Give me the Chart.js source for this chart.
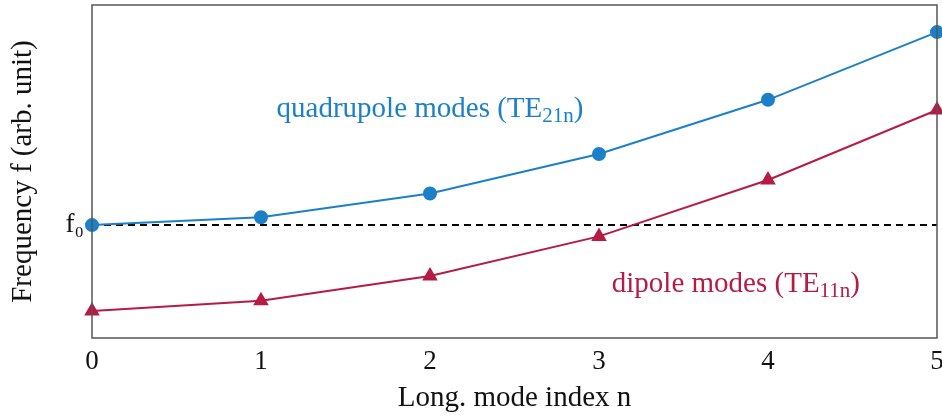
<!DOCTYPE html>
<html>
<head>
<meta charset="utf-8">
<script src="https://cdn.jsdelivr.net/npm/chart.js@4"></script>
<style>
  html, body { margin: 0; padding: 0; background: #fff; }
  #wrap { width: 942px; height: 418px; }
</style>
</head>
<body>
<div id="wrap"><canvas id="modes"></canvas></div>
<script>
// longitudinal mode index and mode frequencies (in units of f0)
const modeIndex = [0, 1, 2, 3, 4, 5];
const quadrupole = [1.00, 1.07, 1.28, 1.63, 2.11, 2.71];
const dipole = [0.24, 0.33, 0.55, 0.90, 1.40, 2.02];
const f0 = 1.0;

const blue = '#1b80c8';
const red = '#b51b45';
const serif = "'Liberation Serif', 'DejaVu Serif', serif";

const pts = vals => vals.map((v, i) => ({ x: modeIndex[i], y: v }));

// frame round the plot area plus the two curve labels with subscripts
const decorations = {
  id: 'decorations',
  afterDatasetsDraw(chart) {
    const { ctx, chartArea: a, scales } = chart;
    ctx.save();
    ctx.strokeStyle = '#555';
    ctx.lineWidth = 1.5;
    ctx.strokeRect(a.left, a.top, a.right - a.left, a.bottom - a.top);

    const label = (x, y, main, sub, color) => {
      ctx.fillStyle = color;
      ctx.textBaseline = 'alphabetic';
      ctx.font = '29px ' + serif;
      const w1 = ctx.measureText(main).width;
      ctx.font = '21px ' + serif;
      const w2 = ctx.measureText(sub).width;
      ctx.font = '29px ' + serif;
      const w3 = ctx.measureText(')').width;
      let px = scales.x.getPixelForValue(x) - (w1 + w2 + w3) / 2;
      const py = scales.y.getPixelForValue(y);
      ctx.fillText(main, px, py);
      px += w1;
      ctx.font = '21px ' + serif;
      ctx.fillText(sub, px, py + 5);
      px += w2;
      ctx.font = '29px ' + serif;
      ctx.fillText(')', px, py);
    };
    label(2.0, 1.96, 'quadrupole modes (TE', '21n', blue);
    label(3.81, 0.41, 'dipole modes (TE', '11n', red);
    ctx.restore();
  }
};

new Chart(document.getElementById('modes'), {
  type: 'line',
  data: {
    datasets: [
      {
        data: pts(quadrupole),
        borderColor: blue, backgroundColor: blue,
        borderWidth: 2, pointStyle: 'circle', pointRadius: 6,
        pointHoverRadius: 6, clip: false, order: 1
      },
      {
        data: pts(dipole),
        borderColor: red, backgroundColor: red,
        borderWidth: 2, pointStyle: 'triangle', pointRadius: 7,
        pointHoverRadius: 7, clip: false, order: 2
      },
      {
        data: [{ x: modeIndex[0], y: f0 }, { x: modeIndex[modeIndex.length - 1], y: f0 }],
        borderColor: '#000', borderWidth: 2, borderDash: [7, 5],
        pointRadius: 0, order: 3
      }
    ]
  },
  options: {
    responsive: true,
    maintainAspectRatio: false,
    animation: false,
    events: [],
    layout: { autoPadding: false, padding: { top: 5, right: 5, left: 0, bottom: 2 } },
    plugins: { legend: { display: false }, tooltip: { enabled: false } },
    scales: {
      x: {
        type: 'linear', min: 0, max: 5,
        grid: { display: false, drawTicks: false },
        border: { display: false },
        ticks: { stepSize: 1, padding: 8, color: '#111', font: { family: serif, size: 27 } },
        title: { display: true, text: 'Long. mode index n', color: '#111', padding: { top: 2, bottom: 0 },
                 font: { family: serif, size: 29 } },
        afterFit: s => { s.height = 78; s.paddingLeft = 0; s.paddingRight = 0; }
      },
      y: {
        min: 0, max: 2.95,
        grid: { display: false, drawTicks: false },
        border: { display: false },
        afterBuildTicks: s => { s.ticks = [{ value: f0 }]; },
        ticks: { padding: 8, color: '#111', font: { family: serif, size: 27 },
                 callback: v => 'f₀' },
        title: { display: true, text: 'Frequency f (arb. unit)', color: '#111', padding: { top: 6, bottom: 0 },
                 font: { family: serif, size: 29 } },
        afterFit: s => { s.width = 92; s.paddingTop = 0; s.paddingBottom = 0; }
      }
    }
  },
  plugins: [decorations]
});
</script>
</body>
</html>
